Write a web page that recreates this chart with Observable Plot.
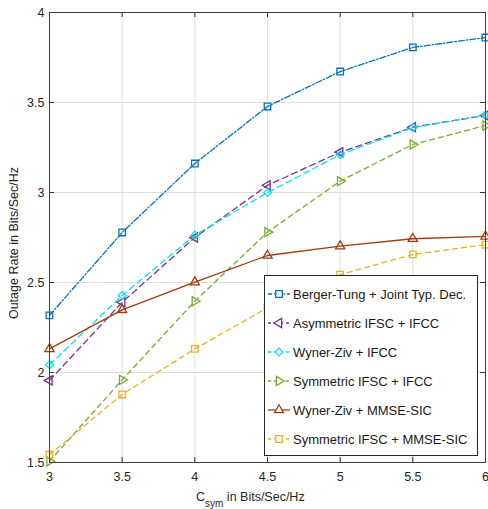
<!DOCTYPE html>
<html>
<head>
<meta charset="utf-8">
<script src="https://cdn.jsdelivr.net/npm/d3@7"></script>
<script src="https://cdn.jsdelivr.net/npm/@observablehq/plot@0.6"></script>
<style>
  html, body { margin: 0; padding: 0; background: #fff; }
  #chart { width: 488px; height: 509px; }
</style>
</head>
<body>
<div id="chart"></div>
<script>
const xValues = [3, 3.5, 4, 4.5, 5, 5.5, 6];
const bergerTung = [2.317, 2.778, 3.161, 3.478, 3.672, 3.806, 3.861];
const asymIfcc   = [1.956, 2.390, 2.750, 3.040, 3.224, 3.363, 3.428];
const wzIfcc     = [2.043, 2.428, 2.763, 3.000, 3.210, 3.360, 3.430];
const symIfcc    = [1.507, 1.959, 2.396, 2.780, 3.063, 3.267, 3.372];
const wzMmse     = [2.131, 2.348, 2.502, 2.650, 2.702, 2.743, 2.756];
const symMmse    = [1.543, 1.878, 2.131, 2.360, 2.544, 2.656, 2.710];

const xTicks = [3, 3.5, 4, 4.5, 5, 5.5, 6];
const yTicks = [1.5, 2, 2.5, 3, 3.5, 4];

const seriesNames = [
  "Berger-Tung + Joint Typ. Dec.",
  "Asymmetric IFSC + IFCC",
  "Wyner-Ziv + IFCC",
  "Symmetric IFSC + IFCC",
  "Wyner-Ziv + MMSE-SIC",
  "Symmetric IFSC + MMSE-SIC"
];
const seriesValues = [bergerTung, asymIfcc, wzIfcc, symIfcc, wzMmse, symMmse];

const styles = [
  {color: "#0072BD", dash: "6,2,1.5,2", symbol: "square", rotate: 0, r: 3.7},
  {color: "#7E2F8E", dash: "6,4", symbol: "triangle", rotate: -90, r: 3.4},
  {color: "#00E5F5", dash: "6,4", symbol: "diamond2", rotate: 0, r: 3.5},
  {color: "#77AC30", dash: "5,4", symbol: "triangle", rotate: 90, r: 3.4},
  {color: "#A23C0F", dash: null, symbol: "triangle", rotate: 0, r: 3.4},
  {color: "#EDB120", dash: "5,4", symbol: "square", rotate: 0, r: 3.7}
];

const tables = seriesValues.map((vals, i) =>
  xValues.map((x, j) => ({x, y: vals[j], series: seriesNames[i]})));

const W = 488, H = 509, mL = 49, mR = 3, mT = 12, mB = 47;
const fw = W - mL - mR, fh = H - mT - mB;
const font = "'Liberation Sans', Arial, Helvetica, sans-serif";
const tickLen = 5;
const lw0 = 1.3;

const marks = [
  Plot.ruleX(xTicks, {stroke: "#dedede", strokeWidth: 1}),
  Plot.ruleY(yTicks, {stroke: "#dedede", strokeWidth: 1}),
];
tables.forEach((t, i) => {
  const s = styles[i];
  marks.push(Plot.line(t, {x: "x", y: "y", stroke: s.color, strokeWidth: lw0,
    strokeDasharray: s.dash || undefined}));
});
tables.forEach((t, i) => {
  const s = styles[i];
  marks.push(Plot.dot(t, {x: "x", y: "y", stroke: s.color, fill: "none", strokeWidth: lw0,
    symbol: s.symbol, rotate: s.rotate, r: s.r}));
});
marks.push(
  Plot.ruleX(xTicks, {stroke: "#333", insetTop: fh - tickLen}),
  Plot.ruleX(xTicks, {stroke: "#333", insetBottom: fh - tickLen}),
  Plot.ruleY(yTicks, {stroke: "#333", insetRight: fw - tickLen}),
  Plot.ruleY(yTicks, {stroke: "#333", insetLeft: fw - tickLen}),
  Plot.frame({stroke: "#404040", strokeWidth: 1}),
  Plot.axisX({ticks: xTicks, tickSize: 0, tickPadding: 10, label: null, tickFormat: d => String(d), fill: "#262626"}),
  Plot.axisY({ticks: yTicks, tickSize: 0, tickPadding: 5, label: null, tickFormat: d => String(d), fill: "#262626"})
);

const svg = Plot.plot({
  width: W, height: H,
  marginLeft: mL, marginRight: mR, marginTop: mT, marginBottom: mB,
  x: {domain: [3, 6]},
  y: {domain: [1.5, 4]},
  style: {fontSize: "12.5px", fontFamily: font, background: "#fff", color: "#262626"},
  marks
});

const g = d3.select(svg);

// Axis titles
const xl = g.append("text")
  .attr("x", 196).attr("y", 501).attr("text-anchor", "start")
  .attr("font-family", font).attr("font-size", 12.5).attr("fill", "#262626");
xl.append("tspan").text("C");
xl.append("tspan").attr("font-size", 10).attr("dy", 6).text("sym");
xl.append("tspan").attr("dy", -6).text(" in Bits/Sec/Hz");

g.append("text")
  .attr("transform", "translate(18,243) rotate(-90)")
  .attr("text-anchor", "middle")
  .attr("font-family", font).attr("font-size", 12.5).attr("fill", "#262626")
  .text("Outage Rate in Bits/Sec/Hz");

// Legend
const lx = 264, ly = 275, lw = 213, lh = 180;
const leg = g.append("g");
leg.append("rect").attr("x", lx + 0.5).attr("y", ly + 0.5).attr("width", lw).attr("height", lh)
  .attr("fill", "#fff").attr("stroke", "#262626").attr("stroke-width", 1);
const symMap = {square: d3.symbolSquare, triangle: d3.symbolTriangle, diamond2: d3.symbolDiamond2};
seriesNames.forEach((name, i) => {
  const s = styles[i];
  const cy = 294 + i * 29;
  leg.append("line").attr("x1", 268).attr("x2", 290).attr("y1", cy).attr("y2", cy)
    .attr("stroke", s.color).attr("stroke-width", lw0)
    .attr("stroke-dasharray", s.dash ? (i === 0 ? "4,2,1.5,2" : "3,3") : null);
  leg.append("path")
    .attr("d", d3.symbol(symMap[s.symbol], Math.PI * s.r * s.r)())
    .attr("transform", `translate(279,${cy}) rotate(${s.rotate})`)
    .attr("fill", "#fff").attr("stroke", s.color).attr("stroke-width", lw0);
  leg.append("text").attr("x", 293).attr("y", cy).attr("dy", "0.36em").attr("text-anchor", "start")
    .attr("font-family", font).attr("font-size", 13).attr("fill", "#1a1a1a")
    .text(name);
});

document.getElementById("chart").appendChild(svg);
</script>
</body>
</html>
